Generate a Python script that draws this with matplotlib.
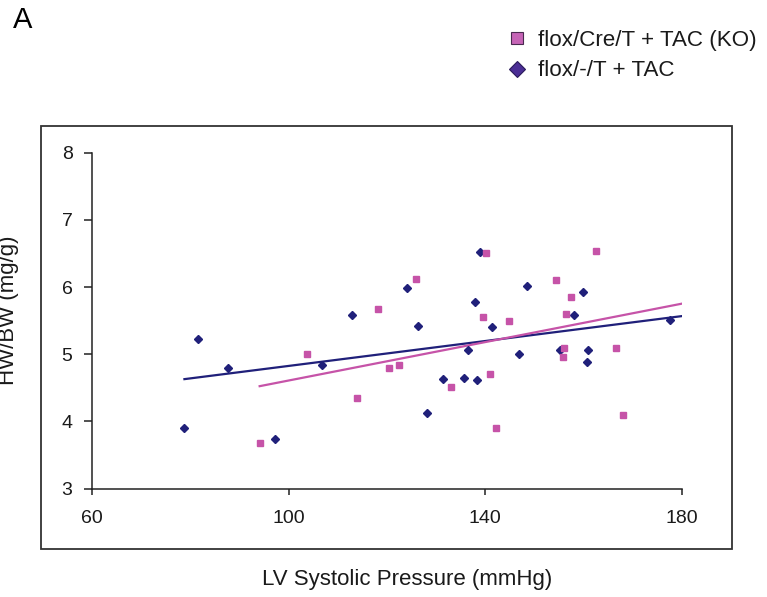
import matplotlib

matplotlib.use("Agg")
import matplotlib.patches as patches
import matplotlib.pyplot as plt
import numpy as np
from matplotlib.lines import Line2D

plt.rcParams["font.family"] = ["Liberation Sans", "DejaVu Sans"]

# KO group (pink squares)
ko_pressure = [94.1, 103.8, 113.9, 118.2, 120.4, 122.4, 125.9, 133.1, 139.5, 140.1, 141.0,
               142.2, 144.8, 154.4, 155.8, 156.1, 156.4, 157.4, 162.6, 166.6, 168.1]
ko_hwbw = [3.68, 5.01, 4.35, 5.67, 4.79, 4.84, 6.12, 4.51, 5.56, 6.51, 4.70,
           3.91, 5.49, 6.11, 4.96, 5.10, 5.60, 5.85, 6.53, 5.09, 4.10]

# control group (navy diamonds)
ctl_pressure = [78.8, 81.6, 87.6, 97.3, 106.8, 112.8, 124.1, 126.3, 128.2, 131.4, 135.6, 136.4,
                137.8, 138.4, 138.9, 141.3, 146.8, 148.5, 155.2, 158.1, 159.8, 160.6, 160.9, 177.6]
ctl_hwbw = [3.90, 5.23, 4.80, 3.74, 4.84, 5.59, 5.98, 5.42, 4.12, 4.63, 4.64, 5.06,
            5.78, 4.62, 6.52, 5.41, 5.00, 6.02, 5.06, 5.59, 5.93, 4.89, 5.06, 5.51]

# linear trendlines: (slope, intercept)
ko_trend = (0.0143, 3.18)
ctl_trend = (0.00927, 3.90)

labels = ["flox/Cre/T + TAC (KO)", "flox/-/T + TAC"]
x_ticks = [60, 100, 140, 180]
y_ticks = [3, 4, 5, 6, 7, 8]

PINK = "#c653a8"
NAVY = "#20207a"
TXT = "#1a1a1a"

W, H = 767, 597
fig = plt.figure(figsize=(W / 100, H / 100), dpi=100)
ax = fig.add_axes([92 / W, 1 - 488.7 / H, 590 / W, 336 / H])


def trend_line(x, coef, x_end):
    # Excel-style trendline: from the first point out to the axis end
    xs = np.array([min(x), x_end])
    return xs, coef[0] * xs + coef[1]


xs, ys = trend_line(ctl_pressure, ctl_trend, x_ticks[-1])
ax.plot(xs, ys, color=NAVY, lw=1.6, zorder=2)
xs, ys = trend_line(ko_pressure, ko_trend, x_ticks[-1])
ax.plot(xs, ys, color=PINK, lw=1.6, zorder=2)

ax.plot(ctl_pressure, ctl_hwbw, ls="none", marker="D", ms=3.8, color=NAVY, zorder=3)
ax.plot(ko_pressure, ko_hwbw, ls="none", marker="s", ms=4.7, color=PINK, zorder=3)

ax.set_xlim(x_ticks[0], x_ticks[-1])
ax.set_ylim(y_ticks[0], y_ticks[-1])
ax.set_xticks(x_ticks)
ax.set_yticks(y_ticks)
for s in ("top", "right"):
    ax.spines[s].set_visible(False)
for s in ("left", "bottom"):
    ax.spines[s].set_color("#222222")
    ax.spines[s].set_linewidth(1.1)
ax.tick_params(axis="y", direction="out", length=5.5, width=1.1, pad=8.5,
               labelsize=14, colors="#222222", labelcolor=TXT)
ax.tick_params(axis="x", direction="out", length=4.5, width=1.1, pad=11,
               labelsize=14, colors="#222222", labelcolor=TXT)

# axis titles
fig.text(407 / W, 1 - 579 / H, "LV Systolic Pressure (mmHg)", fontsize=16,
         ha="center", va="center", color=TXT)
fig.text(9 / W, 1 - 310 / H, "HW/BW (mg/g)", fontsize=16, rotation=90,
         ha="center", va="center", color=TXT)

# panel letter
fig.text(13 / W, 1 - 20 / H, "A", fontsize=21, ha="left", va="center", color="black")

# chart-area frame
fig.add_artist(patches.Rectangle((41 / W, 1 - 549 / H), 691 / W, 423 / H,
                                 transform=fig.transFigure, fill=False,
                                 edgecolor="#333333", lw=1.3))

handles = [
    Line2D([], [], ls="none", marker="s", ms=9.2, markerfacecolor="#c664b6",
           markeredgecolor="#4a2a50", markeredgewidth=0.8),
    Line2D([], [], ls="none", marker="D", ms=8.0, markerfacecolor="#4b2e95",
           markeredgecolor="#2a1a5a", markeredgewidth=0.8),
]
fig.legend(handles, labels, loc="upper left", bbox_to_anchor=(506 / W, 1 - 30 / H),
           frameon=False, fontsize=16.1, handlelength=1.0, handletextpad=0.45,
           labelspacing=0.42, borderpad=0, borderaxespad=0, labelcolor=TXT)

fig.savefig("out.png", dpi=100)
